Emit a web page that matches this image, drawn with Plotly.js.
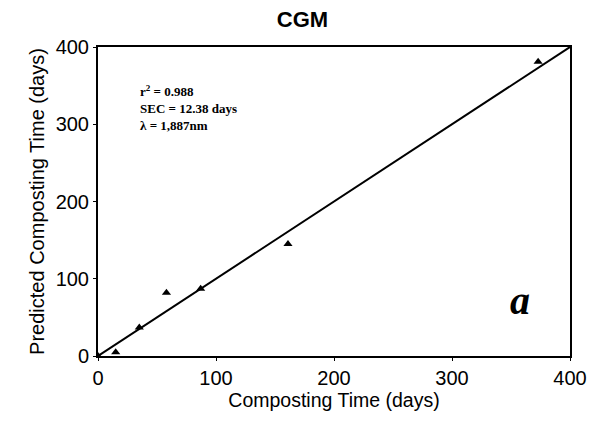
<!DOCTYPE html>
<html>
<head>
<meta charset="utf-8">
<script src="https://cdn.plot.ly/plotly-3.0.1.min.js"></script>
<style>html,body{margin:0;padding:0;background:#fff;}#chart{width:599px;height:423px;}</style>
</head>
<body>
<div id="chart"></div>
<script>
// Measured composting time (days) vs predicted composting time (days)
const measuredDays = [0, 15, 35, 58, 87, 161, 373];
const predictedDays = [0, 5, 37, 82, 87, 145, 381];
const lineX = [0, 400];
const lineY = [0, 400];
const xTicks = [0, 100, 200, 300, 400];
const yTicks = [0, 100, 200, 300, 400];
const statLines = ["r<sup>2</sup> = 0.988", "SEC = 12.38 days", "λ = 1,887nm"];

const traces = [
  {x: lineX, y: lineY, mode: 'lines', line: {color: '#000', width: 2}, hoverinfo: 'skip'},
  {x: measuredDays, y: predictedDays, mode: 'markers',
   marker: {symbol: 'triangle-up', color: '#000', size: 8}}
];

const layout = {
  width: 599, height: 423,
  margin: {l: 98, r: 29, t: 47, b: 67},
  paper_bgcolor: '#fff', plot_bgcolor: '#fff',
  showlegend: false,
  title: {text: '<b>CGM</b>', font: {family: 'Liberation Sans, Arial', size: 22, color: '#000'},
          x: 0.505, xanchor: 'center', y: 0.955, yanchor: 'middle'},
  xaxis: {range: [0, 400], tickvals: xTicks, ticktext: xTicks.map(String),
          showgrid: false, zeroline: false, showline: true, linecolor: '#000', linewidth: 2,
          mirror: true, ticks: 'outside', ticklen: 3, tickcolor: '#000',
          tickfont: {family: 'Liberation Sans, Arial', size: 20, color: '#000'},
          title: {text: 'Composting Time (days)', font: {family: 'Liberation Sans, Arial', size: 19.5, color: '#000'}, standoff: 5}},
  yaxis: {range: [0, 400], tickvals: yTicks, ticktext: yTicks.map(String),
          showgrid: false, zeroline: false, showline: true, linecolor: '#000', linewidth: 2,
          mirror: true, ticks: 'outside', ticklen: 3, tickcolor: '#000',
          tickfont: {family: 'Liberation Sans, Arial', size: 20, color: '#000'},
          title: {text: 'Predicted Composting Time (days)', font: {family: 'Liberation Sans, Arial', size: 20, color: '#000'}, standoff: 6}},
  annotations: [
    {xref: 'paper', yref: 'paper', x: 0.085, y: 0.89, xanchor: 'left', yanchor: 'top', align: 'left',
     showarrow: false, text: '<b>' + statLines.join('<br>') + '</b>',
     font: {family: 'Liberation Serif, Times New Roman', size: 13, color: '#000'}},
    {xref: 'paper', yref: 'paper', x: 0.895, y: 0.18, xanchor: 'center', yanchor: 'middle',
     showarrow: false, text: '<b><i>a</i></b>',
     font: {family: 'Liberation Serif, Times New Roman', size: 40, color: '#000'}}
  ]
};

Plotly.newPlot('chart', traces, layout, {displayModeBar: false, staticPlot: true});
</script>
</body>
</html>
